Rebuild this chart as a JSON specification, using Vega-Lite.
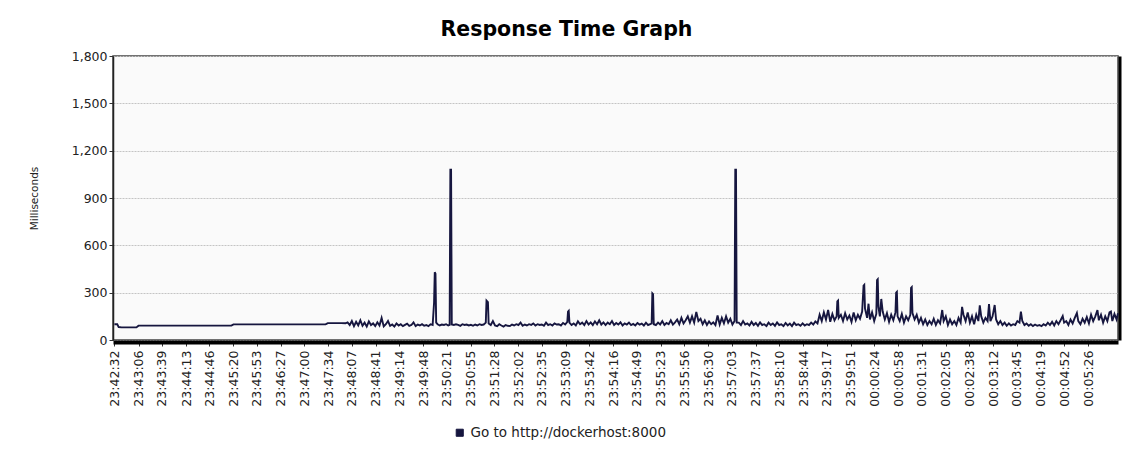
{
"$schema": "https://vega.github.io/schema/vega-lite/v6.json",
"width": 1005, "height": 284,
"autosize": {"type": "none"},
"padding": {"left": 113, "top": 56, "right": 23, "bottom": 115},
"background": "white",
"title": {"text": "Response Time Graph", "font": "DejaVu Sans", "fontSize": 20.5, "fontWeight": "bold", "color": "black", "anchor": "middle", "dx": -49, "offset": 10},
"config": {"view": {"fill": "#fafafa", "stroke": "#444", "strokeWidth": 1.5}, "axis": {"labelOverlap": false}},
"data": {"values": [
{"s":0,"v":100},{"s":4,"v":100},{"s":6,"v":82},{"s":10,"v":80},{"s":20,"v":80},{"s":31,"v":80},{"s":34,"v":91},{"s":60,"v":91},{"s":100,"v":91},{"s":140,"v":91},{"s":165,"v":91},{"s":168,"v":99},{"s":200,"v":99},{"s":250,"v":99},{"s":298,"v":99},{"s":301,"v":107},{"s":320,"v":107},{"s":326,"v":106},
{"s":329,"v":112},{"s":332,"v":95},{"s":335,"v":120},{"s":338,"v":88},{"s":341,"v":115},{"s":344,"v":92},{"s":347,"v":125},{"s":350,"v":90},{"s":353,"v":110},{"s":356,"v":85},{"s":359,"v":118},{"s":362,"v":95},{"s":365,"v":105},{"s":368,"v":88},{"s":371,"v":112},{"s":374,"v":92},{"s":377,"v":140},{"s":380,"v":86},{"s":383,"v":100},{"s":386,"v":120},{"s":389,"v":90},{"s":392,"v":98},{"s":395,"v":85},{"s":398,"v":105},{"s":401,"v":92},{"s":404,"v":100},{"s":407,"v":88},{"s":410,"v":96},{"s":413,"v":104},{"s":416,"v":90},{"s":419,"v":95},{"s":422,"v":112},{"s":425,"v":88},{"s":428,"v":98},{"s":431,"v":92},{"s":434,"v":100},{"s":437,"v":90},{"s":440,"v":95},{"s":443,"v":88},{"s":446,"v":100},{"s":449,"v":95},{"s":451,"v":235},{"s":452,"v":430},{"s":453,"v":420},{"s":454,"v":110},{"s":456,"v":100},{"s":459,"v":92},{"s":462,"v":98},{"s":465,"v":95},{"s":468,"v":100},{"s":471,"v":92},{"s":473,"v":96},{"s":474,"v":1080},{"s":475,"v":1080},{"s":476,"v":98},{"s":479,"v":95},{"s":482,"v":100},{"s":485,"v":96},{"s":488,"v":90},{"s":491,"v":100},{"s":494,"v":95},{"s":497,"v":98},{"s":500,"v":92},{"s":503,"v":96},{"s":506,"v":90},{"s":509,"v":98},{"s":512,"v":92},{"s":515,"v":100},{"s":518,"v":95},{"s":521,"v":98},{"s":524,"v":110},{"s":525,"v":250},{"s":526,"v":245},{"s":527,"v":240},{"s":528,"v":105},
{"s":531,"v":95},{"s":534,"v":120},{"s":537,"v":92},{"s":540,"v":88},{"s":543,"v":100},{"s":546,"v":92},{"s":549,"v":85},{"s":552,"v":95},{"s":555,"v":90},{"s":558,"v":88},{"s":561,"v":98},{"s":564,"v":92},{"s":567,"v":100},{"s":570,"v":95},{"s":573,"v":110},{"s":576,"v":90},{"s":579,"v":98},{"s":582,"v":92},{"s":585,"v":100},{"s":588,"v":95},{"s":591,"v":105},{"s":594,"v":92},{"s":597,"v":100},{"s":600,"v":95},{"s":603,"v":98},{"s":606,"v":90},{"s":609,"v":110},{"s":612,"v":95},{"s":615,"v":100},{"s":618,"v":92},{"s":621,"v":105},{"s":624,"v":98},{"s":627,"v":100},{"s":630,"v":92},{"s":633,"v":108},{"s":636,"v":98},{"s":639,"v":115},{"s":640,"v":180},{"s":641,"v":185},{"s":642,"v":110},{"s":645,"v":95},{"s":648,"v":105},{"s":651,"v":92},{"s":654,"v":118},{"s":657,"v":100},{"s":660,"v":110},{"s":663,"v":95},{"s":666,"v":120},{"s":669,"v":98},{"s":672,"v":112},{"s":675,"v":95},{"s":678,"v":118},{"s":681,"v":100},{"s":684,"v":125},{"s":687,"v":98},{"s":690,"v":112},{"s":693,"v":95},{"s":696,"v":110},{"s":699,"v":100},{"s":702,"v":120},{"s":705,"v":95},{"s":708,"v":108},{"s":711,"v":98},{"s":714,"v":112},{"s":717,"v":92},{"s":720,"v":105},{"s":723,"v":98},{"s":726,"v":110},{"s":729,"v":95},{"s":732,"v":102},{"s":735,"v":92},{"s":738,"v":108},{"s":741,"v":98},{"s":744,"v":104},{"s":747,"v":92},{"s":750,"v":110},{"s":753,"v":95},{"s":756,"v":100},{"s":758,"v":105},{"s":759,"v":295},{"s":760,"v":290},{"s":761,"v":100},{"s":764,"v":95},{"s":767,"v":110},{"s":770,"v":98},{"s":773,"v":120},{"s":776,"v":95},{"s":779,"v":108},{"s":782,"v":100},{"s":785,"v":125},{"s":788,"v":98},{"s":791,"v":112},{"s":794,"v":130},{"s":797,"v":100},{"s":800,"v":140},{"s":803,"v":105},{"s":806,"v":125},{"s":809,"v":150},{"s":812,"v":110},{"s":815,"v":150},{"s":818,"v":110},{"s":821,"v":178},{"s":824,"v":120},{"s":827,"v":135},{"s":830,"v":100},{"s":833,"v":125},{"s":836,"v":95},{"s":839,"v":118},{"s":842,"v":100},{"s":845,"v":112},{"s":848,"v":95},{"s":851,"v":155},{"s":854,"v":98},{"s":857,"v":140},{"s":860,"v":105},{"s":863,"v":150},{"s":866,"v":110},{"s":869,"v":135},{"s":872,"v":98},{"s":875,"v":120},{"s":876,"v":1080},{"s":877,"v":1080},{"s":878,"v":110},
{"s":881,"v":110},{"s":884,"v":95},{"s":887,"v":120},{"s":890,"v":98},{"s":893,"v":105},{"s":896,"v":92},{"s":899,"v":115},{"s":902,"v":95},{"s":905,"v":108},{"s":908,"v":90},{"s":911,"v":112},{"s":914,"v":95},{"s":917,"v":100},{"s":920,"v":88},{"s":923,"v":110},{"s":926,"v":95},{"s":929,"v":105},{"s":932,"v":90},{"s":935,"v":112},{"s":938,"v":95},{"s":941,"v":100},{"s":944,"v":88},{"s":947,"v":108},{"s":950,"v":92},{"s":953,"v":104},{"s":956,"v":88},{"s":959,"v":110},{"s":962,"v":95},{"s":965,"v":100},{"s":968,"v":90},{"s":971,"v":105},{"s":974,"v":92},{"s":977,"v":100},{"s":980,"v":95},{"s":983,"v":110},{"s":986,"v":98},{"s":989,"v":118},{"s":992,"v":105},{"s":995,"v":160},{"s":998,"v":120},{"s":1001,"v":175},{"s":1004,"v":130},{"s":1007,"v":190},{"s":1010,"v":115},{"s":1013,"v":165},{"s":1016,"v":125},{"s":1019,"v":150},{"s":1020,"v":245},{"s":1021,"v":250},{"s":1022,"v":140},{"s":1025,"v":160},{"s":1028,"v":120},{"s":1031,"v":170},{"s":1034,"v":130},{"s":1037,"v":155},{"s":1040,"v":115},{"s":1043,"v":175},{"s":1046,"v":125},{"s":1049,"v":160},{"s":1052,"v":135},{"s":1055,"v":180},{"s":1057,"v":345},{"s":1058,"v":350},{"s":1059,"v":200},{"s":1062,"v":140},{"s":1064,"v":230},{"s":1066,"v":130},{"s":1069,"v":175},{"s":1072,"v":120},{"s":1075,"v":165},{"s":1076,"v":380},{"s":1077,"v":385},{"s":1078,"v":210},{"s":1080,"v":150},{"s":1082,"v":260},{"s":1084,"v":180},{"s":1087,"v":130},{"s":1090,"v":170},{"s":1093,"v":115},{"s":1096,"v":160},{"s":1099,"v":125},{"s":1102,"v":175},{"s":1103,"v":300},{"s":1104,"v":305},{"s":1105,"v":150},{"s":1108,"v":120},{"s":1111,"v":165},{"s":1114,"v":110},{"s":1117,"v":150},{"s":1120,"v":125},{"s":1123,"v":160},{"s":1124,"v":330},{"s":1125,"v":335},{"s":1126,"v":170},{"s":1129,"v":130},{"s":1132,"v":160},{"s":1135,"v":110},{"s":1138,"v":140},{"s":1141,"v":100},{"s":1144,"v":130},{"s":1147,"v":95},{"s":1150,"v":120},{"s":1153,"v":100},{"s":1156,"v":135},{"s":1159,"v":95},{"s":1162,"v":125},{"s":1165,"v":105},{"s":1168,"v":190},{"s":1170,"v":120},{"s":1173,"v":150},{"s":1176,"v":95},{"s":1179,"v":130},{"s":1182,"v":100},{"s":1185,"v":120},{"s":1188,"v":95},{"s":1191,"v":140},{"s":1194,"v":110},{"s":1196,"v":210},{"s":1198,"v":160},{"s":1201,"v":120},{"s":1204,"v":175},{"s":1207,"v":110},{"s":1210,"v":150},{"s":1213,"v":100},{"s":1216,"v":160},{"s":1219,"v":120},{"s":1221,"v":220},{"s":1223,"v":150},{"s":1226,"v":110},{"s":1229,"v":140},{"s":1232,"v":120},{"s":1234,"v":228},{"s":1236,"v":120},{"s":1239,"v":150},{"s":1242,"v":222},{"s":1244,"v":130},{"s":1247,"v":100},{"s":1250,"v":120},{"s":1253,"v":95},{"s":1256,"v":110},{"s":1259,"v":90},{"s":1262,"v":105},{"s":1265,"v":92},{"s":1268,"v":100},{"s":1271,"v":95},{"s":1274,"v":120},{"s":1277,"v":110},{"s":1279,"v":180},{"s":1281,"v":120},{"s":1284,"v":95},{"s":1287,"v":105},{"s":1290,"v":90},{"s":1293,"v":100},{"s":1296,"v":88},{"s":1299,"v":98},{"s":1302,"v":90},{"s":1305,"v":95},{"s":1308,"v":88},{"s":1311,"v":100},{"s":1314,"v":92},{"s":1317,"v":110},{"s":1320,"v":95},{"s":1323,"v":115},{"s":1326,"v":92},{"s":1329,"v":120},{"s":1332,"v":100},{"s":1335,"v":125},{"s":1338,"v":152},{"s":1340,"v":110},{"s":1343,"v":120},{"s":1346,"v":95},{"s":1349,"v":130},{"s":1352,"v":105},{"s":1355,"v":140},{"s":1358,"v":171},{"s":1360,"v":120},{"s":1363,"v":100},{"s":1366,"v":135},{"s":1369,"v":110},{"s":1372,"v":145},{"s":1375,"v":105},{"s":1378,"v":160},{"s":1381,"v":120},{"s":1384,"v":150},{"s":1387,"v":190},{"s":1389,"v":125},{"s":1392,"v":160},{"s":1395,"v":110},{"s":1398,"v":150},{"s":1401,"v":120},{"s":1404,"v":175},{"s":1406,"v":180},{"s":1408,"v":120},{"s":1411,"v":165},{"s":1414,"v":130},{"s":1416,"v":170}
]},
"encoding": {
"x": {"field": "s", "type": "quantitative",
"scale": {"domain": [-2, 1416], "nice": false, "zero": false},
"axis": {"title": null, "values": [0,34,67,101,134,168,201,235,268,302,335,369,402,436,469,503,536,570,603,637,670,704,737,771,804,838,871,905,938,972,1005,1039,1072,1106,1139,1173,1206,1240,1273,1307,1340,1374],
"labelExpr": "utcFormat((datum.value + 85352) * 1000, '%H:%M:%S')",
"labelAngle": 270, "labelAlign": "right", "labelBaseline": "middle", "labelFont": "DejaVu Sans", "labelFontSize": 12.5, "labelColor": "#222", "labelPadding": 4,
"grid": false, "ticks": true, "tickSize": 4, "tickColor": "#333", "domainColor": "black", "domainWidth": 4, "offset": 2, "labelOverlap": false, "labelFlush": false}}
},
"layer": [
{
"mark": {"type": "line", "strokeWidth": 1.9, "strokeJoin": "miter"},
"encoding": {
"y": {"field": "v", "type": "quantitative",
"scale": {"domain": [0, 1800], "nice": false},
"axis": {"title": "Milliseconds", "titleFont": "DejaVu Sans", "titleFontSize": 10.5, "titleFontWeight": "normal", "titleColor": "#222", "titlePadding": 32,
"values": [0,300,600,900,1200,1500,1800], "format": ",d", "labelFont": "DejaVu Sans", "labelFontSize": 12.5, "labelColor": "#222",
"grid": true, "gridColor": "#c4c4c4", "gridWidth": 1, "gridDash": [2,1], "tickSize": 4, "tickColor": "#333", "domainColor": "#222", "domainWidth": 1.5}},
"color": {"datum": "Go to http://dockerhost:8000", "type": "nominal",
"scale": {"range": ["#16163f"]},
"legend": {"title": null, "orient": "none", "legendX": 340, "legendY": 370, "direction": "horizontal", "symbolType": "square", "symbolSize": 50, "labelFont": "DejaVu Sans", "labelFontSize": 13.5, "labelColor": "#222", "labelLimit": 500,
"encode": {"symbols": {"update": {"fill": {"value": "#16163f"}, "stroke": {"value": "#16163f"}, "strokeWidth": {"value": 1}}}}}}
}
},
{
"mark": {"type": "line", "strokeOpacity": 0},
"encoding": {
"y": {"field": "v", "type": "quantitative",
"axis": {"orient": "right", "title": null, "labels": false, "ticks": false, "grid": false, "domainColor": "black", "domainWidth": 3, "offset": 1.5}}
}
}
],
"resolve": {"axis": {"y": "independent"}}
}
